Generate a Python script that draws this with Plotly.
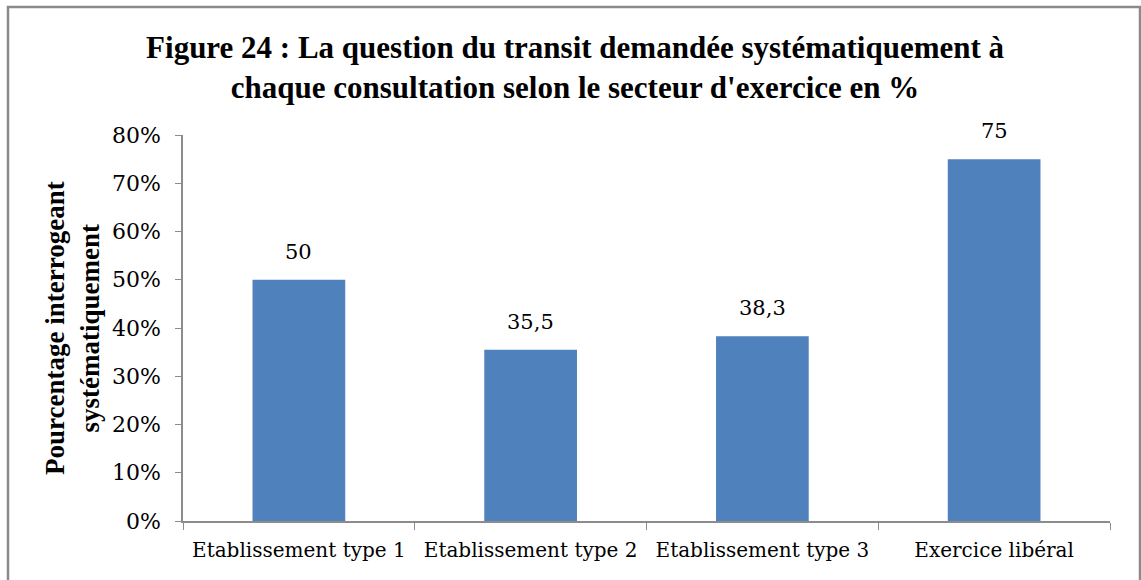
import plotly.graph_objects as go

categories = ["Etablissement type 1", "Etablissement type 2", "Etablissement type 3", "Exercice libéral"]
values = [0.50, 0.355, 0.383, 0.75]
labels = ["50", "35,5", "38,3", "75"]
tick_vals = [0, 0.1, 0.2, 0.3, 0.4, 0.5, 0.6, 0.7, 0.8]
tick_text = ["0%", "10%", "20%", "30%", "40%", "50%", "60%", "70%", "80%"]

serif = "Liberation Serif, Times New Roman, serif"
wide_serif = "DejaVu Serif, serif"

fig = go.Figure()
fig.add_trace(go.Bar(
    x=categories, y=values,
    marker=dict(color="#4F81BD", line=dict(width=0)),
    hoverinfo="skip"
))

# data labels above the bars
annotations = [dict(
    x=c, y=v, text=t, xref="x", yref="y", showarrow=False,
    yanchor="bottom", yshift=14,
    font=dict(family=wide_serif, size=21, color="#000000")
) for c, v, t in zip(categories, values, labels)]

annotations.append(dict(
    text="<b>Pourcentage interrogeant<br>systématiquement</b>",
    textangle=-90, xref="paper", yref="paper",
    x=(72 - 183) / 927, y=0.5, xanchor="center", yanchor="middle",
    showarrow=False, font=dict(family=serif, size=27, color="#000000")
))

fig.update_layout(
    width=1141, height=580,
    margin=dict(l=183, r=31, t=135, b=59),
    paper_bgcolor="white", plot_bgcolor="white",
    bargap=0.6, showlegend=False,
    font=dict(family=serif, color="#000000"),
    title=dict(
        text="<b>Figure 24 : La question du transit demandée systématiquement à<br>chaque consultation selon le secteur d'exercice en %</b>",
        font=dict(family=serif, size=31, color="#000000"),
        x=0.504, xanchor="center", xref="container",
        y=0.90, yanchor="middle", yref="container"
    ),
    xaxis=dict(
        showline=True, linecolor="#8c8c8c", linewidth=1.5,
        ticks="outside", tickson="boundaries", ticklen=7, tickcolor="#8c8c8c",
        tickfont=dict(family=wide_serif, size=20, color="#000000"),
        ticklabelstandoff=10,
        showgrid=False
    ),
    yaxis=dict(
        range=[0, 0.8], tickvals=tick_vals, ticktext=tick_text,
        showline=True, linecolor="#8c8c8c", linewidth=1.5,
        ticks="outside", ticklen=6, tickcolor="#8c8c8c",
        tickfont=dict(family=wide_serif, size=22, color="#000000"),
        ticklabelstandoff=10,
        showgrid=False, zeroline=False
    ),
    annotations=annotations,
    shapes=[dict(
        type="rect", xref="paper", yref="paper",
        x0=(8 - 183) / 927, x1=(1140 - 183) / 927,
        y0=-0.3, y1=(521 - 7) / 386,
        line=dict(color="#8a8a8a", width=2.5), fillcolor="rgba(0,0,0,0)"
    )]
)

fig.write_html("out.html", config={"displayModeBar": False},
               post_script="document.body.style.margin='0';")
